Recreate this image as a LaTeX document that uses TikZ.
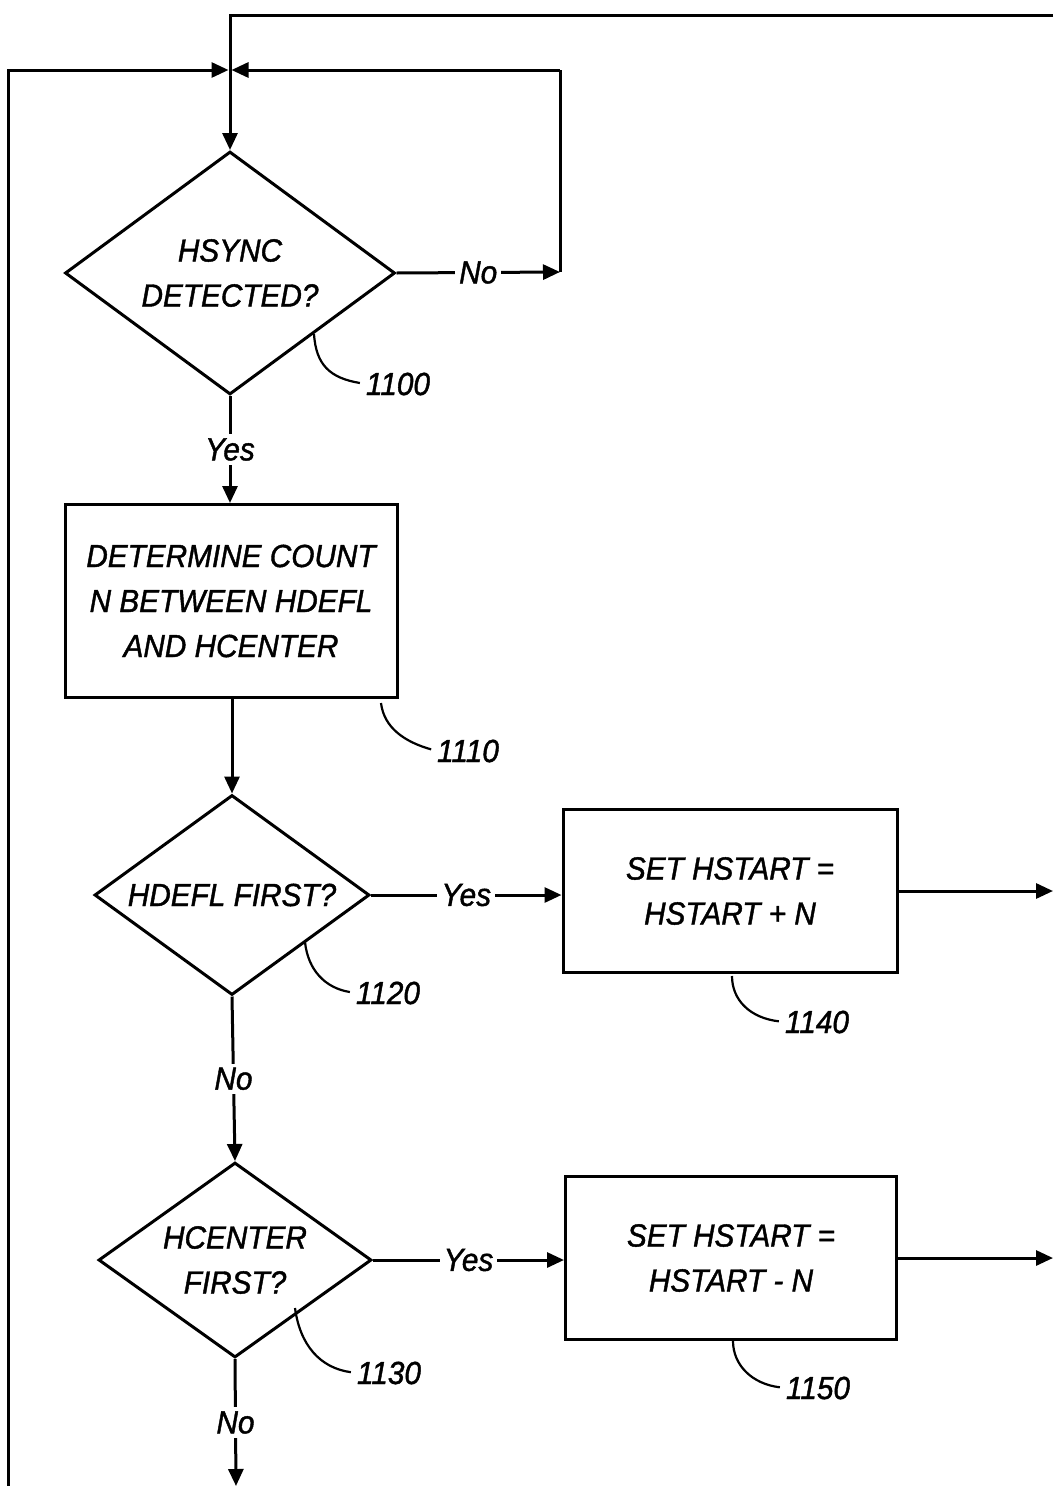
\documentclass[tikz,border=0pt]{standalone}
\usepackage{fontspec}
\setmainfont{Liberation Sans}[FakeStretch=0.93,ItalicFeatures={FakeBold=1.3}]
\usetikzlibrary{shapes.geometric,arrows.meta}
\tikzset{
  ln/.style={line width=3pt},
  arr/.style={ln,-{Triangle[length=17pt,width=15pt]}},
  txt/.style={font=\fontsize{32}{45}\selectfont\itshape,align=center,inner sep=0pt},
  dia/.style={diamond,draw,ln,inner sep=0pt},
  boxn/.style={rectangle,draw,ln,inner sep=0pt,txt},
  lab/.style={txt,fill=white,inner sep=4pt},
  ref/.style={txt},
  lead/.style={line width=2.2pt,shorten >=6pt}
}
\begin{document}
\begin{tikzpicture}[x=1pt,y=-1pt]
\useasboundingbox[fill=white] (0,0) rectangle (1053,1486);
% coordinates
\coordinate (topR) at (1053,15);
\coordinate (topL) at (230,15);
\coordinate (junc) at (230,70);
\coordinate (leftB) at (8,1486);
\coordinate (leftT) at (8,70);
\coordinate (rC) at (560,272);
\coordinate (rT) at (560,70);
\coordinate (out1) at (1053,891);
\coordinate (out2) at (1053,1258);
\coordinate (botE) at (236,1486);
% nodes
\node[dia,minimum width=330pt,minimum height=243pt] (d1100) at (230,273) {};
\node[txt] (t1100) at (d1100.center) {HSYNC\\DETECTED?};
\node[boxn,minimum width=332pt,minimum height=193pt] (b1110) at (231,601) {DETERMINE COUNT\\N BETWEEN HDEFL\\AND HCENTER};
\node[dia,minimum width=275pt,minimum height=200pt] (d1120) at (232,895) {};
\node[txt] (t1120) at (d1120.center) {HDEFL FIRST?};
\node[boxn,minimum width=334pt,minimum height=163pt] (b1140) at (730,891) {SET HSTART =\\HSTART + N};
\node[dia,minimum width=273pt,minimum height=195pt] (d1130) at (235,1260) {};
\node[txt] (t1130) at (d1130.center) {HCENTER\\FIRST?};
\node[boxn,minimum width=331pt,minimum height=163pt] (b1150) at (731,1258) {SET HSTART =\\HSTART - N};
% reference numerals
\node[ref] (r1100) at (398,384) {1100};
\node[ref] (r1110) at (468,751) {1110};
\node[ref] (r1120) at (388,993) {1120};
\node[ref] (r1140) at (817,1022) {1140};
\node[ref] (r1130) at (389,1373) {1130};
\node[ref] (r1150) at (818,1388) {1150};
% leaders
\draw[lead] (314,334) .. controls (316,365) and (330,378) .. (r1100.west);
\draw[lead] (381,703) .. controls (384,728) and (405,742) .. (r1110.west);
\draw[lead] (305,942) .. controls (308,970) and (325,988) .. (r1120.west);
\draw[lead] (732,976) .. controls (732,1000) and (750,1018) .. (r1140.west);
\draw[lead] (295,1308) .. controls (300,1345) and (320,1368) .. (r1130.west);
\draw[lead] (733,1341) .. controls (733,1365) and (752,1384) .. (r1150.west);
% connectors
\draw[arr] (topR) -- (topL) -- (d1100.north);
\draw[arr,shorten >=1.5pt] (leftB) -- (leftT) -- (junc);
\draw[arr] (d1100.east) -- node[lab]{No} (rC);
\draw[ln] (rC) -- (rT);
\draw[arr,shorten >=1.5pt] (rT) -- (junc);
\draw[arr] (d1100.south) -- node[lab]{Yes} (b1110.north -| d1100.south);
\draw[arr] (b1110.south -| d1120.north) -- (d1120.north);
\draw[arr] (d1120.east) -- node[lab]{Yes} (d1120.east -| b1140.west);
\draw[arr] (b1140.east |- out1) -- (out1);
\draw[arr] (d1120.south) -- node[lab]{No} (d1130.north);
\draw[arr] (d1130.east) -- node[lab]{Yes} (d1130.east -| b1150.west);
\draw[arr] (b1150.east |- out2) -- (out2);
\draw[arr] (d1130.south) -- node[lab]{No} (botE);
\end{tikzpicture}
\end{document}
